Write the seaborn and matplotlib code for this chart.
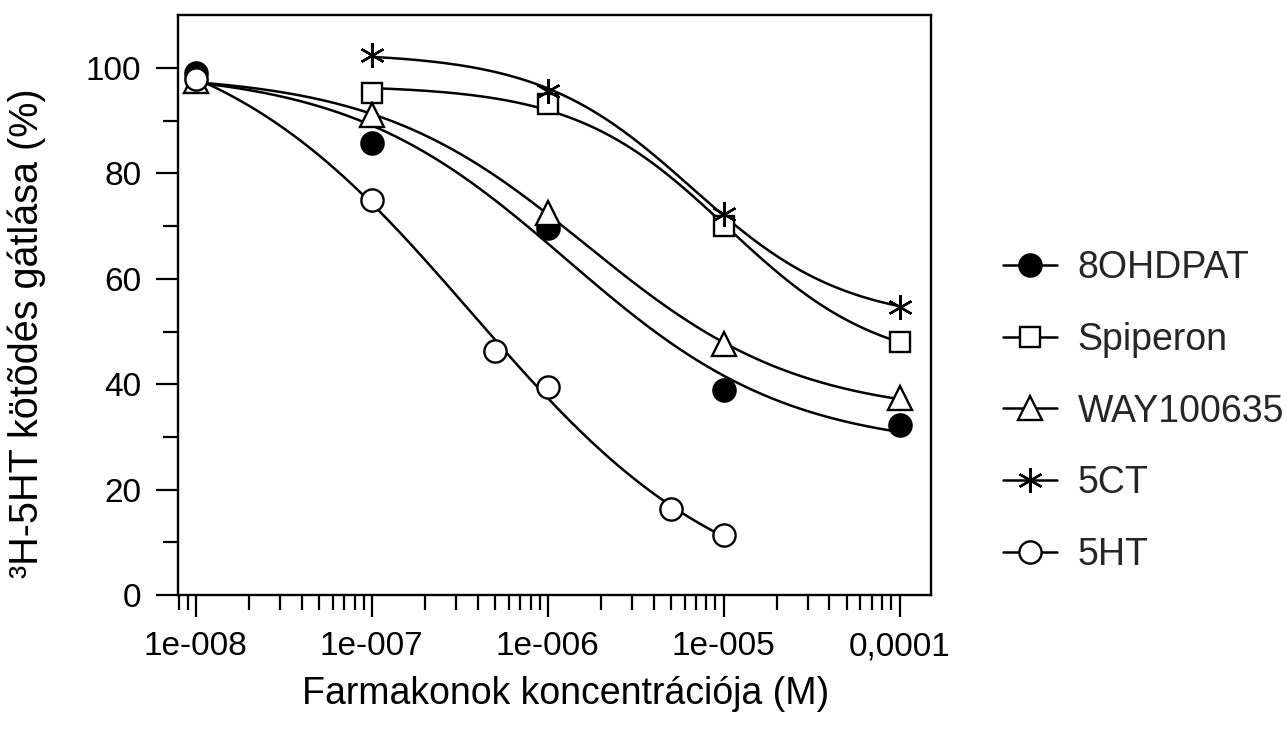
import numpy as np
import pandas as pd
import matplotlib
matplotlib.use("Agg")
import matplotlib.pyplot as plt
from matplotlib.lines import Line2D
import seaborn as sns

# Concentrations (M) and % inhibition of 3H-5HT binding for each drug
conc_8ohdpat = [1e-8, 1e-7, 1e-6, 1e-5, 1e-4]
inh_8ohdpat = [99.0, 85.8, 69.7, 39.0, 32.2]

conc_spiperon = [1e-7, 1e-6, 1e-5, 1e-4]
inh_spiperon = [95.3, 93.2, 70.0, 48.1]

conc_way = [1e-8, 1e-7, 1e-6, 1e-5, 1e-4]
inh_way = [97.5, 91.0, 72.5, 47.7, 37.3]

conc_5ct = [1e-7, 1e-6, 1e-5, 1e-4]
inh_5ct = [102.5, 95.6, 72.3, 54.7]

conc_5ht = [1e-8, 1e-7, 5e-7, 1e-6, 5e-6, 1e-5]
inh_5ht = [97.9, 75.0, 46.4, 39.4, 16.3, 11.4]

series_names = ["8OHDPAT", "Spiperon", "WAY100635", "5CT", "5HT"]
x_tick_values = [1e-8, 1e-7, 1e-6, 1e-5, 1e-4]
x_tick_labels = ["1e-008", "1e-007", "1e-006", "1e-005", "0,0001"]
y_tick_values = [0, 20, 40, 60, 80, 100]

sns.set_theme(style="ticks")
plt.rcParams["font.family"] = ["Liberation Sans", "DejaVu Sans"]

FS_TICK = 24
FS_LABEL = 27
LW = 1.8


def fit_dose_response(x, y):
    """Sigmoidal dose-response fit in log10(x).  Series with more than four
    points get a variable Hill slope, shorter ones a fixed slope of 1.
    Grid search over (logIC50, slope); bottom/top by linear least squares."""
    lx = np.log10(np.asarray(x, float))
    y = np.asarray(y, float)
    cs = np.linspace(-10.0, -1.0, 901)[:, None, None]
    if len(y) > 4:
        hs = np.linspace(0.3, 3.0, 271)[None, :, None]
    else:
        hs = np.array([1.0])[None, :, None]
    g = 1.0 / (1.0 + 10 ** ((lx[None, None, :] - cs) * hs))
    a = 1.0 - g
    saa = (a * a).sum(-1)
    sgg = (g * g).sum(-1)
    sag = (a * g).sum(-1)
    say = (a * y).sum(-1)
    sgy = (g * y).sum(-1)
    det = saa * sgg - sag ** 2
    det = np.where(np.abs(det) < 1e-12, np.nan, det)
    b = (say * sgg - sgy * sag) / det
    t = (saa * sgy - sag * say) / det
    pred = b[..., None] * a + t[..., None] * g
    sse = ((pred - y) ** 2).sum(-1)
    sse = np.where(np.isfinite(sse), sse, np.inf)
    i, j = np.unravel_index(np.argmin(sse), sse.shape)
    c, h = cs[i, 0, 0], hs[0, j, 0]
    bb, tt = b[i, j], t[i, j]

    def f(xx):
        return bb + (tt - bb) / (1.0 + 10 ** ((np.log10(xx) - c) * h))
    return f


series = [
    ("8OHDPAT", conc_8ohdpat, inh_8ohdpat, dict(marker="o", facecolor="black", size=16)),
    ("Spiperon", conc_spiperon, inh_spiperon, dict(marker="s", facecolor="white", size=14.5)),
    ("WAY100635", conc_way, inh_way, dict(marker="^", facecolor="white", size=17)),
    ("5CT", conc_5ct, inh_5ct, dict(marker=(6, 2, 0), facecolor="black", size=18)),
    ("5HT", conc_5ht, inh_5ht, dict(marker="o", facecolor="white", size=16)),
]

fig = plt.figure(figsize=(12.87, 7.31), dpi=100)
ax = fig.add_axes([0.138, 0.186, 0.585, 0.793])

# fitted curves, drawn beneath the markers
for name, xs, ys, st in series:
    f = fit_dose_response(xs, ys)
    xx = np.geomspace(min(xs), max(xs), 300)
    curve = pd.DataFrame({"x": xx, "y": f(xx)})
    sns.lineplot(data=curve, x="x", y="y", ax=ax, color="black", lw=LW,
                 zorder=2, legend=False, sort=False)

# data points
handles = []
for k, (name, xs, ys, st) in enumerate(series):
    ax.plot(xs, ys, linestyle="none", marker=st["marker"], markersize=st["size"],
            markerfacecolor=st["facecolor"], markeredgecolor="black",
            markeredgewidth=1.7, zorder=3 + k)
    handles.append(Line2D([0], [0], color="black", lw=LW, marker=st["marker"],
                          markersize=st["size"], markerfacecolor=st["facecolor"],
                          markeredgecolor="black", markeredgewidth=1.7))

ax.set_xscale("log")
ax.set_xlim(7.9e-9, 1.5e-4)
ax.set_ylim(0, 110)
ax.set_xticks(x_tick_values)
ax.set_xticklabels(x_tick_labels)
ax.set_yticks(y_tick_values)
ax.set_yticks([10, 30, 50, 70, 90], minor=True)
ax.xaxis.set_minor_locator(matplotlib.ticker.LogLocator(base=10, subs=np.arange(2, 10)))
ax.xaxis.set_minor_formatter(matplotlib.ticker.NullFormatter())

ax.tick_params(which="major", direction="out", length=16, width=1.6,
               labelsize=FS_TICK, color="black", labelcolor="black")
ax.tick_params(axis="y", which="major", pad=10)
ax.tick_params(axis="x", which="major", pad=10)
ax.tick_params(which="minor", direction="out", length=11, width=1.6, color="black")
for sp in ax.spines.values():
    sp.set_visible(True)
    sp.set_color("black")
    sp.set_linewidth(1.7)

ax.set_xlabel("Farmakonok koncentrációja (M)", fontsize=FS_LABEL, color="black")
ax.set_ylabel("³H-5HT kötõdés gátlása (%)", fontsize=28.5, color="black")
ax.xaxis.set_label_coords(0.516, -0.14)
ax.yaxis.set_label_coords(-0.175, 0.452)

fig.legend(handles, series_names, loc="center left", bbox_to_anchor=(0.779, 0.437),
           frameon=False, fontsize=FS_LABEL, handlelength=1.45, handletextpad=0.55,
           labelspacing=0.95, borderaxespad=0, borderpad=0)

fig.savefig("out.png", dpi=100, facecolor="white")
